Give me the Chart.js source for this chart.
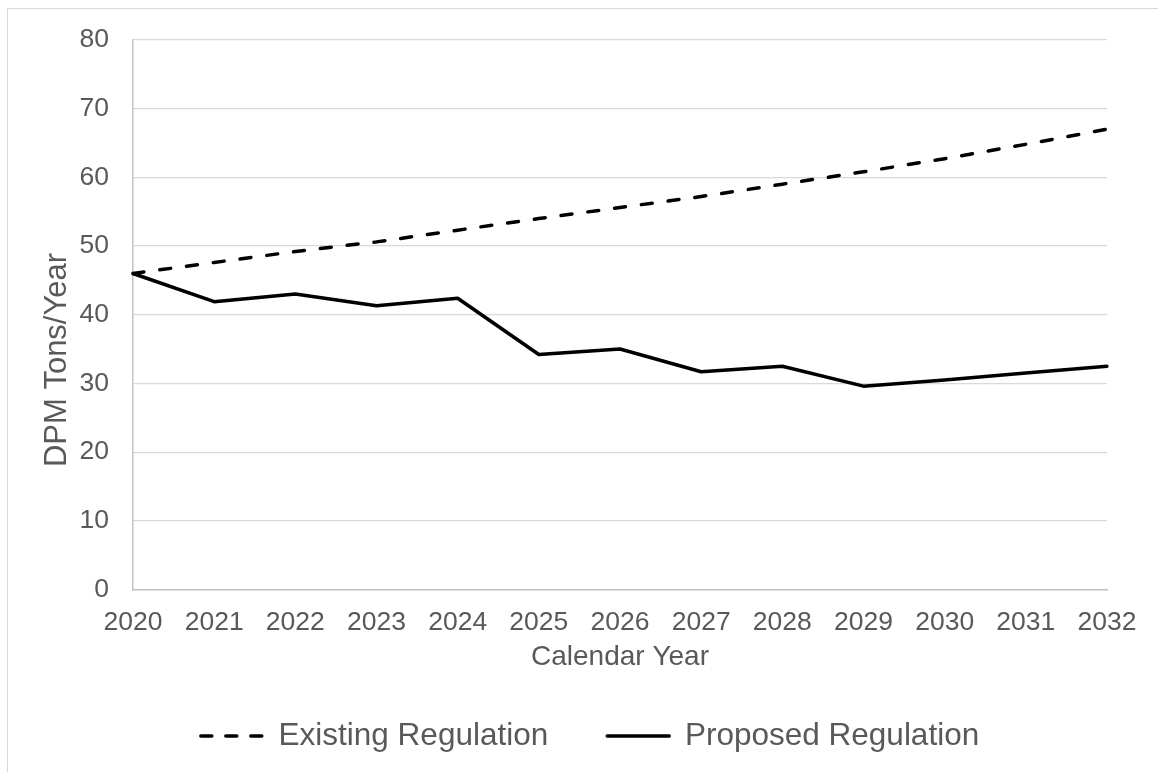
<!DOCTYPE html>
<html><head><meta charset="utf-8">
<script src="https://cdn.jsdelivr.net/npm/chart.js@4.4.1/dist/chart.umd.min.js"></script>
<style>
html,body{margin:0;padding:0;background:#fff;overflow:hidden;width:1158px;height:772px;}
#frame{position:absolute;left:7px;top:8px;width:1200px;height:900px;border:1px solid #d9d9d9;box-sizing:border-box;}
#c{position:absolute;left:0;top:0;}
</style></head><body>
<div id="frame"></div>
<canvas id="c" width="1158" height="772"></canvas>
<script>
// ---- data ----
const years = ['2020','2021','2022','2023','2024','2025','2026','2027','2028','2029','2030','2031','2032'];
const existingRegulation = [46.0, 47.6, 49.2, 50.6, 52.3, 54.0, 55.6, 57.2, 59.0, 60.8, 62.7, 64.8, 67.0];
const proposedRegulation = [46.0, 41.9, 43.0, 41.3, 42.4, 34.2, 35.0, 31.7, 32.5, 29.6, 30.5, 31.5, 32.5];
const seriesNames = ['Existing Regulation', 'Proposed Regulation'];
const yAxisMin = 0, yAxisMax = 80, yAxisStep = 10;
const xAxisTitle = 'Calendar Year';
const yAxisTitle = 'DPM Tons/Year';

const FONT = '"Liberation Sans", Arial, sans-serif';
const TEXT = '#595959';
const legendDash = [11, 14, 11, 14, 11, 100];

const yTitlePlugin = {
  id: 'yTitle',
  afterDraw(chart) {
    const ctx = chart.ctx;
    ctx.save();
    ctx.translate(57, 360);
    ctx.rotate(-Math.PI / 2);
    ctx.font = '31px ' + FONT;
    ctx.fillStyle = TEXT;
    ctx.textAlign = 'center';
    ctx.textBaseline = 'middle';
    ctx.fillText(yAxisTitle, 0, 0);
    ctx.restore();
  }
};

new Chart(document.getElementById('c'), {
  type: 'line',
  data: {
    labels: years,
    datasets: [
      {
        label: seriesNames[0],
        data: existingRegulation,
        borderColor: '#000',
        backgroundColor: 'rgba(0,0,0,0)',
        borderWidth: 3.5,
        borderDash: [11, 16],
        borderCapStyle: 'round',
        pointRadius: 0,
        tension: 0
      },
      {
        label: seriesNames[1],
        data: proposedRegulation,
        borderColor: '#000',
        backgroundColor: 'rgba(0,0,0,0)',
        borderWidth: 3.5,
        borderCapStyle: 'round',
        borderJoinStyle: 'round',
        pointRadius: 0,
        tension: 0
      }
    ]
  },
  options: {
    responsive: false,
    animation: false,
    devicePixelRatio: 1,
    layout: { padding: { left: 73, right: 51, top: 38, bottom: 10.25 } },
    scales: {
      x: {
        type: 'category',
        offset: false,
        grid: { display: false, drawTicks: false },
        border: { display: true, color: '#c4c4c4', width: 1.5 },
        ticks: { padding: 17.5, color: TEXT, font: { family: FONT, size: 26.5 }, maxRotation: 0, autoSkip: false },
        title: { display: true, text: xAxisTitle, color: TEXT, font: { family: FONT, size: 28 }, padding: { top: 0.6, bottom: -12.55 } },
        afterFit(scale) { scale.height -= 16.7; }
      },
      y: {
        min: yAxisMin,
        max: yAxisMax,
        grid: { color: '#d9d9d9', lineWidth: 1.2, drawTicks: false },
        border: { display: true, color: '#c4c4c4', width: 1.5 },
        ticks: { stepSize: yAxisStep, padding: 24, color: TEXT, font: { family: FONT, size: 26.5 } },
        afterFit(scale) { scale.width = 60; }
      }
    },
    plugins: {
      legend: {
        position: 'bottom',
        align: 'center',
        labels: {
          boxWidth: 62,
          boxHeight: 0,
          padding: 59,
          color: TEXT,
          font: { family: FONT, size: 31.5 },
          generateLabels(chart) {
            const items = Chart.defaults.plugins.legend.labels.generateLabels(chart);
            items[0].lineDash = legendDash;
            return items;
          }
        }
      },
      tooltip: { enabled: false }
    }
  },
  plugins: [yTitlePlugin]
});
</script>
</body></html>
